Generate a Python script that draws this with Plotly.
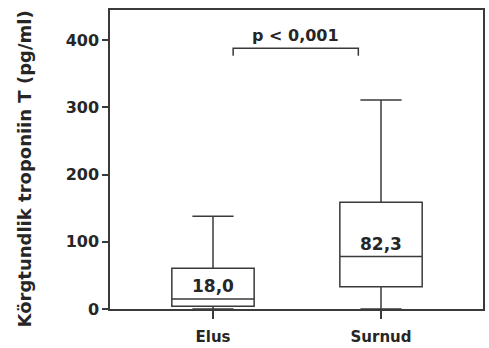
import plotly.graph_objects as go

categories = ["Elus", "Surnud"]
q1 = [4, 33]
median = [15, 78]
q3 = [60.5, 159]
lower = [0, 0]
upper = [138, 311]
median_labels = ["18,0", "82,3"]
p_text = "p < 0,001"
bracket_y = 388
bracket_drop = 377
y_ticks = [0, 100, 200, 300, 400]
y_title = "Körgtundlik troponiin T (pg/ml)"

FONT = "DejaVu Sans"
TXT = "#262626"
LINE = "#3a3a3a"

x_idx = list(range(len(categories)))

fig = go.Figure()
fig.add_trace(go.Box(
    x=x_idx, q1=q1, median=median, q3=q3,
    lowerfence=lower, upperfence=upper,
    fillcolor="white", line=dict(color=LINE, width=1.5),
    width=0.49, whiskerwidth=0.5, boxpoints=False, hoverinfo="skip",
    showlegend=False,
))

for i, lab in enumerate(median_labels):
    fig.add_annotation(x=x_idx[i], y=median[i], text=lab, showarrow=False,
                       yanchor="bottom", yshift=1,
                       font=dict(family=FONT, size=17, color=TXT, weight="bold"))

# significance bracket
bx0 = x_idx[0] + 0.12
bx1 = x_idx[1] - 0.135
fig.add_shape(type="path",
              path=f"M {bx0} {bracket_drop} L {bx0} {bracket_y} L {bx1} {bracket_y} L {bx1} {bracket_drop}",
              line=dict(color=LINE, width=1.5), xref="x", yref="y")
fig.add_annotation(x=(bx0 + bx1) / 2, y=bracket_y, text=p_text, showarrow=False,
                   yanchor="bottom", yshift=1,
                   font=dict(family=FONT, size=16, color=TXT, weight="bold"))

# y-axis title as rotated annotation
fig.add_annotation(xref="paper", yref="paper", x=-0.228, y=0.47,
                   xanchor="center", yanchor="middle", textangle=-90,
                   text=y_title, showarrow=False,
                   font=dict(family=FONT, size=18, color=TXT, weight="bold"))

fig.update_layout(
    width=489, height=348,
    margin=dict(l=110, r=6, t=10, b=39),
    paper_bgcolor="white", plot_bgcolor="white",
    font=dict(family=FONT, color=TXT),
)
fig.update_xaxes(
    range=[-0.613, 1.607], tickvals=x_idx, ticktext=categories,
    ticks="outside", ticklen=8, tickwidth=1.5, tickcolor=LINE,
    showline=True, linecolor=LINE, linewidth=1.5, mirror=True,
    showgrid=False, zeroline=False, automargin=False,
    ticklabelstandoff=5,
    tickfont=dict(family=FONT, size=15, color=TXT, weight="bold"),
)
fig.update_yaxes(
    range=[0, 445], tickvals=y_ticks,
    ticks="outside", ticklen=6, tickwidth=1.5, tickcolor=LINE,
    showline=True, linecolor=LINE, linewidth=1.5, mirror=True,
    showgrid=False, zeroline=False, automargin=False,
    tickfont=dict(family=FONT, size=16, color=TXT, weight="bold"),
)

fig.write_html("out.html", config={"displayModeBar": False},
               post_script="document.body.style.margin='0';document.body.style.padding='0';")
